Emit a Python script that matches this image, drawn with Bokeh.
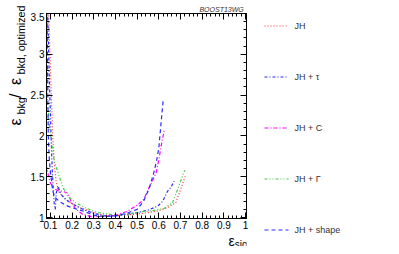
import numpy as np
from bokeh.plotting import figure
from bokeh.layouts import row, column
from bokeh.models import Range1d, LinearAxis, FixedTicker
from bokeh.core.properties import value
from bokeh.embed import file_html
from bokeh.resources import INLINE

# ---------------- data ----------------
jh_x = [0.091, 0.098, 0.104, 0.110, 0.113, 0.120, 0.127, 0.142, 0.172, 0.217, 0.278, 0.338,
        0.400, 0.450, 0.490, 0.550, 0.595, 0.640, 0.678, 0.700, 0.724]
jh_y = [3.55, 3.00, 2.50, 2.05, 1.87, 1.59, 1.43, 1.30, 1.22, 1.14, 1.08, 1.03,
        1.02, 1.03, 1.04, 1.06, 1.08, 1.12, 1.18, 1.34, 1.52]

tau_x = [0.087, 0.092, 0.097, 0.103, 0.108, 0.113, 0.118, 0.122, 0.127, 0.135, 0.150, 0.170,
         0.200, 0.250, 0.300, 0.350, 0.400, 0.450, 0.500, 0.550, 0.595, 0.618, 0.640, 0.656, 0.675]
tau_y = [3.55, 3.00, 2.50, 2.00, 1.60, 1.35, 1.15, 1.10, 1.30, 1.38, 1.28, 1.22,
         1.17, 1.10, 1.05, 1.02, 1.02, 1.04, 1.06, 1.09, 1.14, 1.20, 1.32, 1.37, 1.47]

c_x = [0.080, 0.090, 0.100, 0.110, 0.120, 0.135, 0.157, 0.180, 0.195, 0.217, 0.248, 0.290,
       0.340, 0.400, 0.450, 0.500, 0.530, 0.556, 0.588, 0.603, 0.610, 0.625]
c_y = [1.65, 1.52, 1.42, 1.38, 1.35, 1.33, 1.32, 1.30, 1.20, 1.10, 1.04, 1.01,
       1.01, 1.03, 1.07, 1.15, 1.22, 1.37, 1.55, 1.75, 1.87, 2.07]

gam_x = [0.082, 0.088, 0.095, 0.100, 0.110, 0.120, 0.135, 0.157, 0.180, 0.217, 0.260, 0.320,
         0.400, 0.450, 0.520, 0.565, 0.600, 0.624, 0.663, 0.692, 0.715, 0.720]
gam_y = [2.55, 2.35, 2.15, 2.03, 1.82, 1.67, 1.55, 1.37, 1.26, 1.18, 1.12, 1.06,
         1.03, 1.04, 1.07, 1.08, 1.10, 1.11, 1.18, 1.38, 1.55, 1.58]

shape_x = [0.084, 0.086, 0.088, 0.090, 0.095, 0.100, 0.105, 0.110, 0.120, 0.140, 0.170, 0.200,
           0.250, 0.300, 0.350, 0.400, 0.450, 0.500, 0.530, 0.556, 0.577, 0.590, 0.600, 0.610, 0.620]
shape_y = [3.55, 3.00, 2.50, 2.00, 1.70, 1.55, 1.45, 1.33, 1.25, 1.20, 1.15, 1.12,
           1.08, 1.03, 1.01, 1.02, 1.05, 1.10, 1.20, 1.36, 1.55, 1.70, 1.85, 2.15, 2.43]

series_labels = ["JH", "JH + \u03c4", "JH + C", "JH + \u0393", "JH + shape"]

x_major = [0.1, 0.2, 0.3, 0.4, 0.5, 0.6, 0.7, 0.8, 0.9, 1.0]
x_major_labels = ["0.1", "0.2", "0.3", "0.4", "0.5", "0.6", "0.7", "0.8", "0.9", "1"]
y_major = [1.0, 1.5, 2.0, 2.5, 3.0, 3.5]
y_major_labels = ["1", "1.5", "2", "2.5", "3", "3.5"]

FONT = "Liberation Sans"
styles = [
    dict(line_color="#ff3333", line_width=1.2, line_dash="1 2"),
    dict(line_color="#2a2aff", line_width=1.2, line_dash="3 2 1 2"),
    dict(line_color="#ff00ff", line_width=1.2, line_dash="4 2 1 2"),
    dict(line_color="#44cc44", line_width=1.2, line_dash="3 2 1 2 1 2"),
    dict(line_color="#2a2aff", line_width=1.2, line_dash="4 3"),
]

# ---------------- layout (layout pixels) ----------------
# left strip 0..27 | centre column 27..249 | legend 249..391
# centre column: top strip 0..12, plot 12..232, bottom strip 232..246
LW, CW, RW = 27, 222, 142
TH, PH, BH = 12, 220, 14
H_ALL = TH + PH + BH
X0, X1 = 0.081818, 1.004545
Y0, Y1 = 0.98775, 3.5


def strip(w, h):
    f = figure(width=w, height=h, x_range=Range1d(0, w), y_range=Range1d(0, h),
               output_backend="svg", toolbar_location=None, min_border=0,
               x_axis_type=None, y_axis_type=None)
    f.outline_line_color = None
    f.background_fill_color = "white"
    f.border_fill_color = "white"
    return f


def txt(f, x, y, s, size, angle=0.0, align="left", baseline="alphabetic",
        style="normal", color="black"):
    f.text(x=[x], y=[y], text=[s], angle=angle, text_align=align,
           text_baseline=baseline, text_font=value(FONT), text_font_size=size,
           text_font_style=style, text_color=color)


# ---------------- main plot ----------------
p = figure(width=CW, height=PH, x_range=Range1d(X0, X1), y_range=Range1d(Y0, Y1),
           output_backend="svg", toolbar_location=None,
           min_border_left=16, min_border_right=3, min_border_top=1, min_border_bottom=14)
p.xgrid.visible = False
p.ygrid.visible = False
p.outline_line_color = "black"
p.background_fill_color = "white"
p.border_fill_color = "white"

xminor = [round(0.08 + 0.02 * i, 2) for i in range(47)]
yminor = [round(1.0 + 0.1 * i, 1) for i in range(26)]
xt = FixedTicker(ticks=x_major, minor_ticks=xminor)
yt = FixedTicker(ticks=y_major, minor_ticks=yminor)


def style_axis(ax, show_labels, standoff):
    ax.axis_line_color = "black"
    ax.major_tick_line_color = "black"
    ax.minor_tick_line_color = "black"
    ax.major_tick_in = 6
    ax.major_tick_out = 0
    ax.minor_tick_in = 3
    ax.minor_tick_out = 0
    ax.major_label_text_font = FONT
    ax.major_label_text_color = "black"
    ax.major_label_standoff = standoff
    if show_labels:
        ax.major_label_text_font_size = "10px"
    else:
        ax.major_label_text_font_size = "1px"
        ax.major_label_text_alpha = 0


p.xaxis.ticker = xt
p.yaxis.ticker = yt
p.xaxis.major_label_overrides = {v: s for v, s in zip(x_major, x_major_labels)}
p.yaxis.major_label_overrides = {v: s for v, s in zip(y_major, y_major_labels)}
style_axis(p.xaxis[0], True, 2)
style_axis(p.yaxis[0], True, 2)

top_ax = LinearAxis(ticker=xt)
style_axis(top_ax, False, 0)
p.add_layout(top_ax, "above")
right_ax = LinearAxis(ticker=yt)
style_axis(right_ax, False, 0)
p.add_layout(right_ax, "right")

series = [(jh_x, jh_y), (tau_x, tau_y), (c_x, c_y), (gam_x, gam_y), (shape_x, shape_y)]
for (xs, ys), st in zip(series, styles):
    p.line(xs, ys, **st)

# ---------------- legend panel ----------------
leg = strip(RW, H_ALL)
LEG_X0, LEG_X1, LEG_TX = 264 - 249, 288 - 249, 294 - 249
for i, (lbl, st) in enumerate(zip(series_labels, styles)):
    yy = H_ALL - (25 + 51 * i)
    leg.segment(x0=[LEG_X0], y0=[yy - 0.5], x1=[LEG_X1], y1=[yy - 0.5], **st)
    txt(leg, LEG_TX, yy, lbl, "9px", baseline="middle", color="#333333")

# ---------------- text strips ----------------
top = strip(CW, TH)
txt(top, 246 - LW, 3, "BOOST13WG", "7px", align="right", style="italic", color="#333333")

bottom = strip(CW, BH)
txt(bottom, 229 - LW, 6, "\u03b5", "14px")
txt(bottom, 236 - LW, 2, "sig", "10px")

left = strip(LW, H_ALL)
A = np.pi / 2
def ly(py):
    return H_ALL - py
txt(left, 15, ly(125), "\u03b5", "16px", angle=A)
txt(left, 20.5, ly(114), "bkg", "10.7px", angle=A)
txt(left, 15, ly(97.5), " / ", "16px", angle=A)
txt(left, 15, ly(84.5), "\u03b5", "16px", angle=A)
txt(left, 20.5, ly(74), "bkd, optimized", "10.7px", angle=A)

layout = row(left, column(top, p, bottom, spacing=0), leg, spacing=0)

open("out.html", "w").write(file_html(layout, INLINE))
